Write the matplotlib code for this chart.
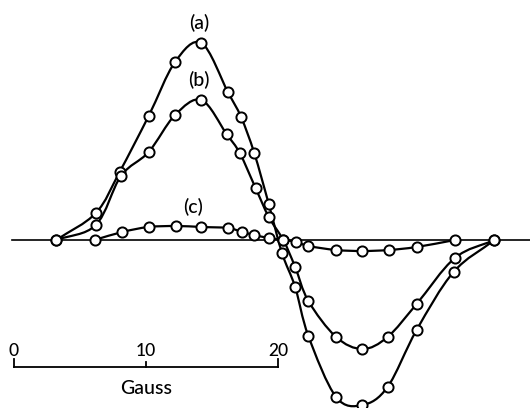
import numpy as np
import matplotlib.pyplot as plt
from matplotlib.path import Path
from matplotlib.patches import PathPatch

plt.rcParams['font.family'] = ['Lato', 'DejaVu Sans']

# field (gauss) and signal (arbitrary units)
field_a = [3.2, 6.2, 8.0, 10.2, 12.2, 14.2, 16.2, 17.2, 18.2, 19.3, 20.3,
           21.3, 22.3, 24.4, 26.4, 28.3, 30.5, 33.3, 36.4]
signal_a = [0, 27, 68, 124, 178, 197, 148, 123, 87, 36, -13,
            -47, -96, -157, -165, -147, -90, -32, 0]

field_b = [3.2, 6.2, 8.1, 10.2, 12.2, 14.2, 16.1, 17.1, 18.3, 19.3, 20.4,
           21.3, 22.3, 24.4, 26.4, 28.3, 30.5, 33.4, 36.4]
signal_b = [0, 15, 64, 88, 125, 140, 106, 87, 52, 23, 0,
            -27, -61, -97, -109, -97, -64, -18, 0]

field_c = [6.1, 8.2, 10.2, 12.3, 14.2, 16.2, 17.3, 18.2, 19.3, 20.4, 21.4,
           22.3, 24.4, 26.4, 28.4, 30.5, 33.4]
signal_c = [0, 8, 13, 14, 13, 12, 8, 5, 2, 0, -2,
            -6, -10, -11, -10, -7, 0]

curve_labels = ['(a)', '(b)', '(c)']
scale_ticks = [0, 10, 20]


def smooth_path(x, y):
    # catmull-rom through the points, as cubic bezier segments
    pts = np.column_stack([x, y]).astype(float)
    ext = np.vstack([2 * pts[0] - pts[1], pts, 2 * pts[-1] - pts[-2]])
    verts = [pts[0]]
    codes = [Path.MOVETO]
    for i in range(1, len(ext) - 2):
        p0, p1, p2, p3 = ext[i - 1], ext[i], ext[i + 1], ext[i + 2]
        verts += [p1 + (p2 - p0) / 6, p2 - (p3 - p1) / 6, p2]
        codes += [Path.CURVE4] * 3
    return Path(verts, codes)


fig = plt.figure(figsize=(5.3, 4.08), dpi=100)
ax = fig.add_axes([0, 0, 1, 1])
ax.set_xlim(-1.06, 39.09)
ax.set_ylim(-168, 240)
ax.axis('off')

# zero line
ax.plot([-0.15, 39.1], [0, 0], color='black', lw=1.2, zorder=1)

for fx, sy in [(field_a, signal_a), (field_b, signal_b), (field_c, signal_c)]:
    ax.add_patch(PathPatch(smooth_path(fx, sy), fill=False, edgecolor='black',
                           lw=1.6, zorder=2))
    ax.plot(fx, sy, 'o', ms=7.3, mfc='white', mec='black', mew=1.4, zorder=3)

# curve labels above the peaks
lab = dict(ha='center', va='center', fontsize=14, fontweight='medium')
ax.text(field_a[5] - 0.2, signal_a[5] + 20, curve_labels[0], **lab)
ax.text(field_b[5] - 0.2, signal_b[5] + 20, curve_labels[1], **lab)
ax.text(field_c[4] - 0.6, signal_c[4] + 20, curve_labels[2], **lab)

# scale bar
bar_y = -127
ax.plot([scale_ticks[0], scale_ticks[-1]], [bar_y, bar_y], color='black', lw=1.3)
for t in scale_ticks:
    h = 8 if t in (scale_ticks[0], scale_ticks[-1]) else 5
    ax.plot([t, t], [bar_y, bar_y + h], color='black', lw=1.3)
    ax.text(t, bar_y + 16, str(t), ha='center', va='center', fontsize=12.5,
            fontweight='medium')
ax.text(10, bar_y - 21, 'Gauss', ha='center', va='center', fontsize=14,
        fontweight='medium')

fig.savefig('out.png', dpi=100, facecolor='white')
